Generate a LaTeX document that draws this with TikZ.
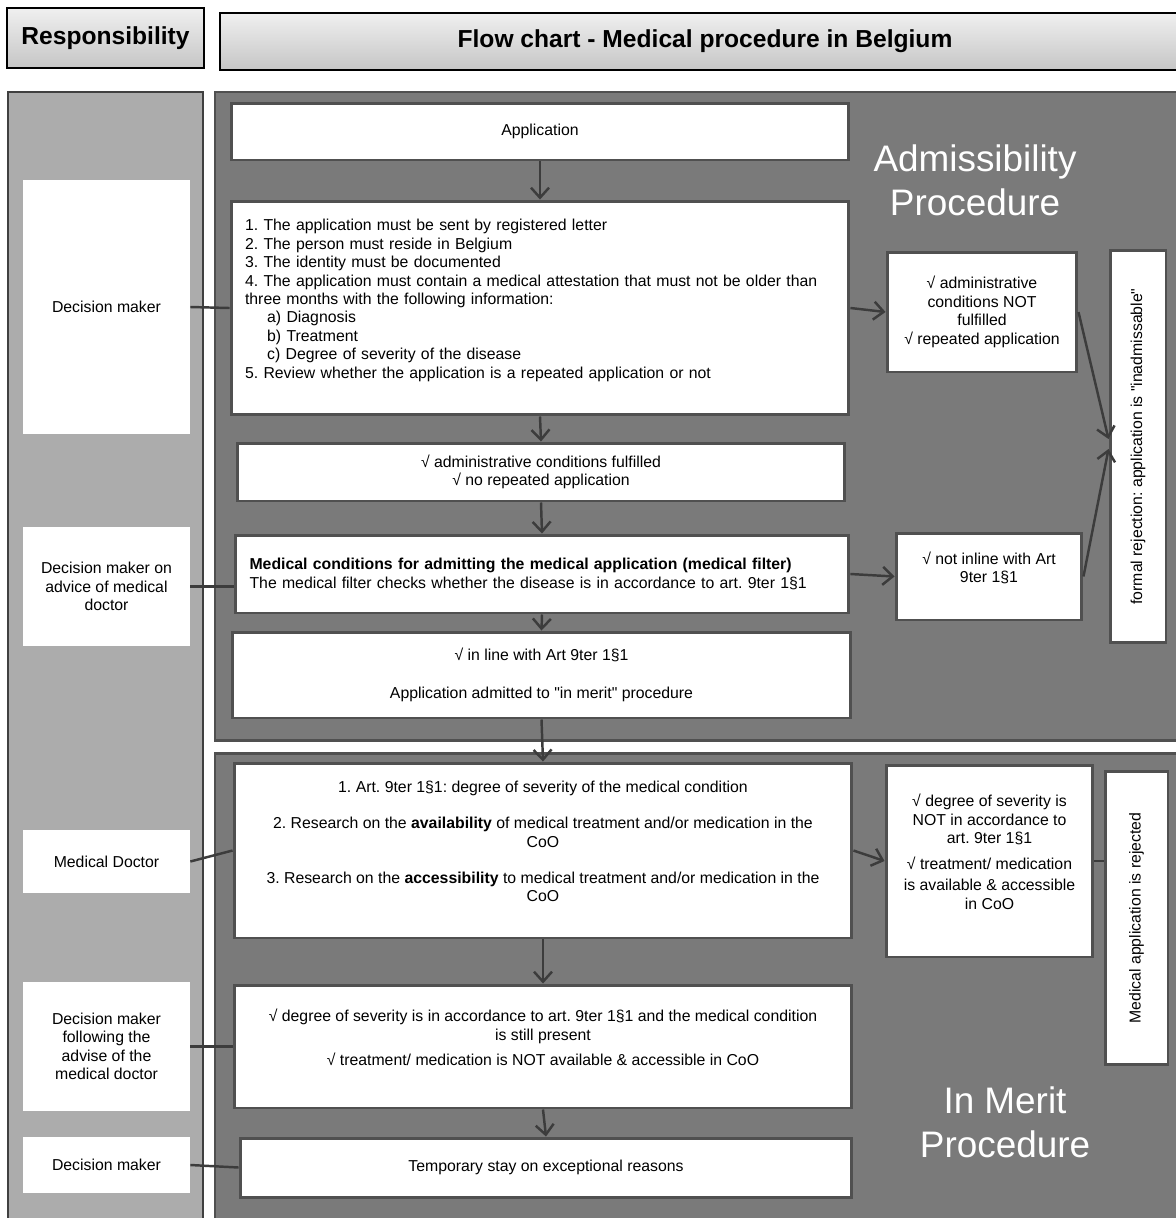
\documentclass[tikz,border=0pt]{standalone}
\usepackage{fontspec}
\setmainfont{Liberation Sans}[Ligatures=TeXOff]
\usepackage{tikz}
\usetikzlibrary{calc,positioning,arrows.meta}

\definecolor{paneldark}{RGB}{122,122,122}
\definecolor{panellight}{RGB}{172,172,172}
\definecolor{edgegray}{RGB}{80,80,80}
\definecolor{arrowgray}{RGB}{60,60,60}

\tikzset{
  header/.style={draw=black, line width=1pt, top color=gray!12, bottom color=gray!45,
    font=\bfseries\fontsize{14}{16}\selectfont},
  stepbox/.style={draw=edgegray, line width=1.7pt, fill=white, align=center, inner sep=3pt,
    font=\fontsize{9}{10.5}\selectfont},
  rolebox/.style={fill=white, align=center, minimum width=3.34cm,
    font=\fontsize{9}{10.5}\selectfont},
  phase/.style={text=white, align=center, font=\fontsize{21}{25}\selectfont},
  flow/.style={-{Straight Barb[length=2mm, width=3.6mm]}, draw=arrowgray, line width=1.4pt},
  link/.style={draw=arrowgray, line width=1.4pt}
}

\begin{document}
\frenchspacing
\begin{tikzpicture}[x=0.02cm, y=-0.02cm]
      % page frame
      \clip (0,0) rectangle (1176,1218);
      \fill[white] (0,0) rectangle (1176,1218);

      % Headers
      \node[header, minimum width=3.94cm, minimum height=1.2cm] (resp) at (105.5,38) {Responsibility};
      \node[header, minimum width=19.4cm, minimum height=1.14cm] (title) at (705,41.5) {Flow chart - Medical procedure in Belgium};

      % Background panels
      \draw[fill=panellight, draw=black!75, line width=1.5pt] (8,92) rectangle (203,1240);
      \draw[fill=paneldark, draw=edgegray, line width=1.7pt] (215,92) rectangle (1195,740);
      \draw[fill=paneldark, draw=edgegray, line width=1.7pt] (215,753) rectangle (1195,1240);

      \node[phase] (admtitle) at (975,180) {Admissibility\\Procedure};
      \node[phase] (merittitle) at (1005,1122) {In Merit\\Procedure};

      % Responsibility column
      \node[rolebox, minimum height=5.08cm] (dmadm) at (106.5,307) {Decision maker};
      \node[rolebox, minimum height=2.38cm] (dmmed) at (106.5,586.5) {Decision maker on\\ advice of medical\\ doctor};
      \node[rolebox, minimum height=1.26cm] (doctor) at (106.5,861.5) {Medical Doctor};
      \node[rolebox, minimum height=2.58cm] (dmfollow) at (106.5,1046.5) {Decision maker\\ following the\\ advise of the\\ medical doctor};
      \node[rolebox, minimum height=1.12cm] (dmstay) at (106.5,1165) {Decision maker};

      % Admissibility procedure
      \node[stepbox, minimum width=12.36cm, minimum height=1.14cm] (app) at (540,131.5) {Application};
      \node[stepbox, minimum width=12.36cm, minimum height=4.28cm, align=left, text width=11.8cm] (cond) at (540,308) {%
        1. The application must be sent by registered letter\\
        2. The person must reside in Belgium\\
        3. The identity must be documented\\
        4. The application must contain a medical attestation that must not be older than\\
        three months with the following information:\\
        \hspace*{1.4em}a) Diagnosis\\
        \hspace*{1.4em}b) Treatment\\
        \hspace*{1.4em}c) Degree of severity of the disease\\
        5. Review whether the application is a repeated application or not\\ \mbox{}};
      \node[stepbox, minimum width=12.16cm, minimum height=1.16cm] (admok) at (541,472) {√ administrative conditions fulfilled\\ √ no repeated application};
      \node[stepbox, minimum width=12.28cm, minimum height=1.56cm, align=left, text width=11.7cm] (medfilter) at (542,574) {%
        \textbf{Medical conditions for admitting the medical application (medical filter)}\\
        The medical filter checks whether the disease is in accordance to art. 9ter 1§1};
      \node[stepbox, minimum width=12.38cm, minimum height=1.72cm] (inline) at (541.5,675) {√ in line with Art 9ter 1§1\\[11pt] Application admitted to "in merit" procedure};

      \node[stepbox, minimum width=3.8cm, minimum height=2.4cm] (admnot) at (982,312) {√ administrative\\ conditions NOT\\ fulfilled\\ √ repeated application};
      \node[stepbox, minimum width=3.72cm, minimum height=1.74cm] (notinline) at (989,576.5) {√ not inline with Art\\ 9ter 1§1\\ \mbox{}};
      \node[stepbox, rotate=90, minimum width=7.86cm, minimum height=1.12cm] (formal) at (1138,446.5) {formal rejection: application is "inadmissable"};

      % In merit procedure
      \node[stepbox, minimum width=12.36cm, minimum height=3.5cm] (research) at (543,850.5) {%
        1. Art. 9ter 1§1: degree of severity of the medical condition\\[10pt]
        2. Research on the \textbf{availability} of medical treatment and/or medication in the\\ CoO\\[10pt]
        3. Research on the \textbf{accessibility} to medical treatment and/or medication in the\\ CoO\\ \mbox{}};
      \node[stepbox, minimum width=12.36cm, minimum height=2.46cm] (granted) at (543,1046.5) {%
        √ degree of severity is in accordance to art. 9ter 1§1 and the medical condition\\ is still present\\[4pt]
        √ treatment/ medication is NOT available \& accessible in CoO\\ \mbox{}};
      \node[stepbox, minimum width=12.24cm, minimum height=1.18cm] (stay) at (546,1167.5) {Temporary stay on exceptional reasons};

      \node[stepbox, minimum width=4.14cm, minimum height=3.84cm] (meritnot) at (989.5,861) {%
        √ degree of severity is\\ NOT in accordance to\\ art. 9ter 1§1\\[4pt]
        √ treatment/ medication\\[2pt] is available \& accessible\\ in CoO\\ \mbox{}};
      \node[stepbox, rotate=90, minimum width=5.88cm, minimum height=1.26cm] (rejected) at (1136.5,918) {Medical application is rejected};

      % Flow arrows
      \draw[flow] (app.south) -- (cond.north);
      \draw[flow] (cond.south) -- (admok.north);
      \draw[flow] (admok.south) -- (medfilter.north);
      \draw[flow] (medfilter.south) -- (inline.north);
      \draw[flow] (inline.south) -- (research.north);
      \draw[flow] (research.south) -- (granted.north);
      \draw[flow] (granted.south) -- (stay.north);

      \draw[flow] (cond.east) -- (admnot.west);
      \draw[flow] (medfilter.east) -- (notinline.west);
      \draw[flow] (admnot.east) -- ([yshift=0.15cm]formal.north);
      \draw[flow] (notinline.east) -- ([yshift=-0.05cm]formal.north);
      \draw[flow] (research.east) -- (meritnot.west);
      \draw[link] (meritnot.east) -- (meritnot.east -| rejected.north);

      % Responsibility links
      \draw[link] (dmadm.east) -- (cond.west);
      \draw[link] (dmmed.east) -- (dmmed.east -| medfilter.west);
      \draw[link] (doctor.east) -- (research.west);
      \draw[link] (dmfollow.east) -- (granted.west);
      \draw[link] (dmstay.east) -- (stay.west);
\end{tikzpicture}
\end{document}
